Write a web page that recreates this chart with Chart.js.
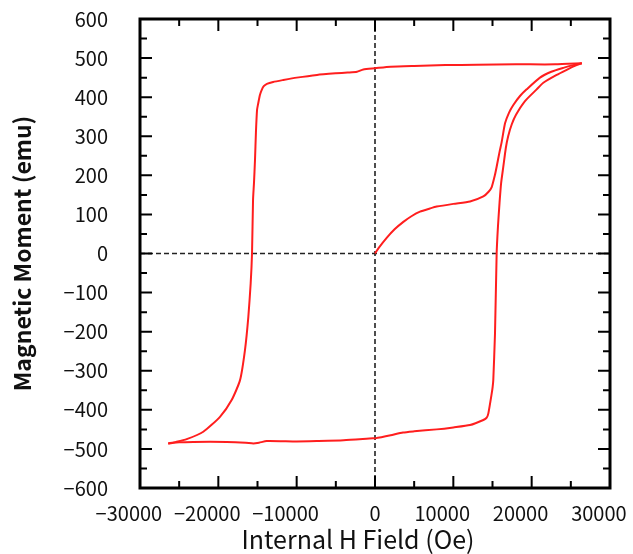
<!DOCTYPE html>
<html>
<head>
<meta charset="utf-8">
<script src="https://cdn.jsdelivr.net/npm/chart.js@4.4.1/dist/chart.umd.min.js"></script>
<style>
  html, body { margin: 0; padding: 0; background: #fff; }
  #wrap { width: 633px; height: 554px; }
</style>
</head>
<body>
<div id="wrap"><canvas id="loop" width="633" height="554"></canvas></div>
<script>
// axis ranges / ticks
const xTicks = [-30000, -20000, -10000, 0, 10000, 20000, 30000];
const yTicks = [-600, -500, -400, -300, -200, -100, 0, 100, 200, 300, 400, 500, 600];

// initial magnetization curve (from origin)
const virginH = [0, 500, 1490, 2500, 3620, 4700, 5745, 7000, 7870, 10000, 12130, 13830, 14500, 14900, 15300, 15530, 15900, 16170, 16600, 17100, 17660, 18510, 19360, 21060, 22500, 24040, 25300, 26400];
const virginM = [0, 15, 40, 62, 81, 96, 107, 115, 120, 127, 133, 146, 158, 170, 200, 222, 260, 285, 333, 360, 380, 403, 420, 450, 465, 475, 482, 487];

// descending branch: +saturation -> -saturation
const descH = [26400, 23000, 18000, 13000, 9000, 5000, 2000, 0, -1500, -2300, -3500, -5000, -7400, -10000, -11700, -13000, -13800, -14200, -14470, -14700, -14900, -15060, -15200, -15320, -15450, -15570, -15700, -15870, -16170, -16600, -17230, -18300, -19790, -21920, -24040, -25400, -26400];
const descM = [487, 484, 484, 483, 482, 480, 478, 474, 471, 465, 463, 461, 457, 450, 444, 439, 434, 428, 418, 405, 385, 367, 310, 239, 180, 137, 0, -76, -162, -247, -324, -375, -418, -456, -475, -482, -486];

// ascending branch: -saturation -> +saturation
const ascH = [-26400, -25000, -23190, -18930, -16500, -15530, -14800, -13825, -10000, -7440, -4000, -255, 0, 2000, 3570, 5000, 7870, 10000, 12130, 13830, 14260, 14470, 14900, 15020, 15100, 15320, 15530, 15700, 15900, 16100, 16380, 16700, 17000, 17450, 18000, 19150, 20640, 21490, 23190, 24470, 25500, 26400];
const ascM = [-486, -483, -482, -482, -484, -486, -484, -480, -481, -480, -478, -473, -473, -465, -458, -455, -450, -445, -439, -426, -420, -409, -358, -341, -324, -204, 0, 70, 130, 180, 222, 270, 300, 330, 355, 390, 420, 437, 457, 470, 480, 487];

const fontFam = '"Noto Sans CJK JP", "Noto Sans", sans-serif';

function pts(hs, ms) {
  return hs.map((h, i) => ({ x: h, y: ms[i] }));
}

function fmt(v) {
  return v < 0 ? "\u2212" + Math.abs(v) : String(v);
}

// x labels in the original sit a little left of their ticks
function fmtX(v) {
  return v === 0 ? "0" : fmt(v) + "\u2007\u2007";
}

// frame, inward ticks, dashed zero lines and axis titles
const framePlugin = {
  id: "frame",
  beforeDatasetsDraw(chart) {
    const { ctx, chartArea: a, scales: { x, y } } = chart;
    ctx.save();
    ctx.strokeStyle = "#222";
    ctx.lineWidth = 1.6;
    ctx.setLineDash([5, 3]);
    const x0 = x.getPixelForValue(0);
    const y0 = y.getPixelForValue(0);
    ctx.beginPath();
    ctx.moveTo(x0, a.top); ctx.lineTo(x0, a.bottom);
    ctx.moveTo(a.left, y0); ctx.lineTo(a.right, y0);
    ctx.stroke();
    ctx.restore();
  },
  afterDatasetsDraw(chart) {
    const { ctx, chartArea: a, scales: { x, y } } = chart;
    ctx.save();
    ctx.strokeStyle = "#000";
    ctx.lineWidth = 2;
    ctx.beginPath();
    xTicks.forEach((v, i) => {
      const p = x.getPixelForValue(v);
      ctx.moveTo(p, a.bottom); ctx.lineTo(p, a.bottom - 12);
      ctx.moveTo(p, a.top); ctx.lineTo(p, a.top + 12);
      if (i < xTicks.length - 1) {
        const m = x.getPixelForValue((v + xTicks[i + 1]) / 2);
        ctx.moveTo(m, a.bottom); ctx.lineTo(m, a.bottom - 7);
        ctx.moveTo(m, a.top); ctx.lineTo(m, a.top + 7);
      }
    });
    yTicks.forEach((v, i) => {
      const p = y.getPixelForValue(v);
      ctx.moveTo(a.left, p); ctx.lineTo(a.left + 12, p);
      ctx.moveTo(a.right, p); ctx.lineTo(a.right - 12, p);
      if (i < yTicks.length - 1) {
        const m = y.getPixelForValue((v + yTicks[i + 1]) / 2);
        ctx.moveTo(a.left, m); ctx.lineTo(a.left + 7, m);
        ctx.moveTo(a.right, m); ctx.lineTo(a.right - 7, m);
      }
    });
    ctx.stroke();
    ctx.lineWidth = 3;
    ctx.strokeRect(a.left, a.top, a.right - a.left, a.bottom - a.top);

    ctx.fillStyle = "#111";
    ctx.textAlign = "center";
    ctx.textBaseline = "middle";
    ctx.font = "25px " + fontFam;
    ctx.fillText("Internal H Field (Oe)", 358, 539);
    ctx.font = "bold 23px " + fontFam;
    ctx.translate(22, (a.top + a.bottom) / 2);
    ctx.rotate(-Math.PI / 2);
    ctx.fillText("Magnetic Moment (emu)", 0, 0);
    ctx.restore();
  }
};

const lineStyle = {
  showLine: true,
  borderColor: "#ff1e1e",
  backgroundColor: "#ff1e1e",
  borderWidth: 2,
  pointRadius: 0,
  tension: 0.2,
  fill: false
};

new Chart(document.getElementById("loop").getContext("2d"), {
  type: "scatter",
  data: {
    datasets: [
      Object.assign({ label: "initial", data: pts(virginH, virginM) }, lineStyle),
      Object.assign({ label: "descending", data: pts(descH, descM) }, lineStyle),
      Object.assign({ label: "ascending", data: pts(ascH, ascM) }, lineStyle)
    ]
  },
  options: {
    responsive: false,
    animation: false,
    layout: { padding: { top: 19, right: 23, left: 0, bottom: 0 } },
    plugins: {
      legend: { display: false },
      tooltip: { enabled: false }
    },
    scales: {
      x: {
        type: "linear",
        min: -30000,
        max: 30000,
        afterFit(s) { s.height = 66; s.paddingLeft = 0; s.paddingRight = 0; },
        afterBuildTicks(s) { s.ticks = xTicks.map(v => ({ value: v })); },
        grid: { display: false },
        border: { display: false },
        ticks: {
          color: "#111",
          padding: 5,
          maxRotation: 0,
          autoSkip: false,
          font: { family: fontFam, size: 20 },
          callback: fmtX
        }
      },
      y: {
        type: "linear",
        min: -600,
        max: 600,
        afterFit(s) { s.width = 140; s.paddingTop = 0; s.paddingBottom = 0; },
        afterBuildTicks(s) { s.ticks = yTicks.map(v => ({ value: v })); },
        grid: { display: false },
        border: { display: false },
        ticks: {
          color: "#111",
          padding: 24,
          autoSkip: false,
          font: { family: fontFam, size: 20 },
          callback: fmt
        }
      }
    }
  },
  plugins: [framePlugin]
});
</script>
</body>
</html>
